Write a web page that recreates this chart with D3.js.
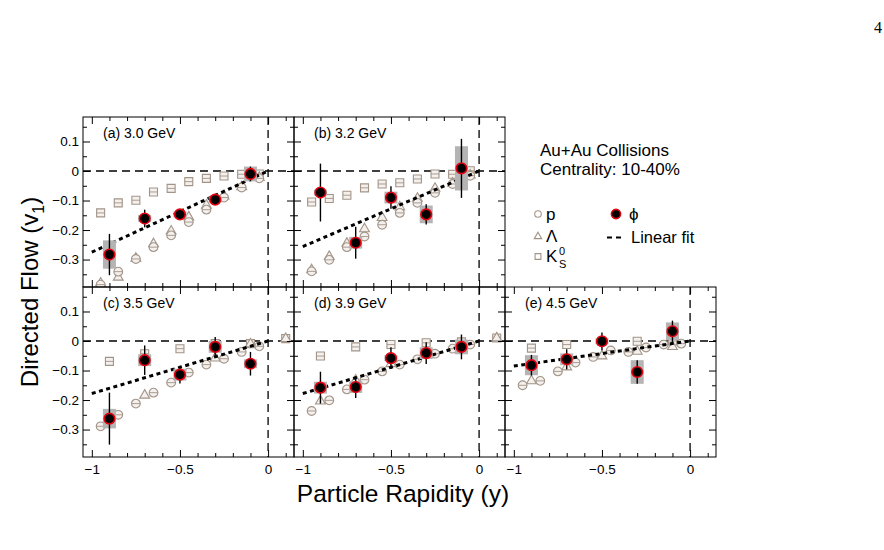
<!DOCTYPE html>
<html>
<head>
<meta charset="utf-8">
<script src="https://cdn.jsdelivr.net/npm/d3@7"></script>
<style>
body { margin: 0; background: #fff; }
svg { font-family: "Liberation Sans", Arial, Helvetica, sans-serif; }
</style>
</head>
<body>
<svg id="chart" width="884" height="550"></svg>
<script>
'use strict';

// panels: (a) (b) on top, (c) (d) (e) below
const panelLabels = ['(a) 3.0 GeV', '(b) 3.2 GeV', '(c) 3.5 GeV', '(d) 3.9 GeV', '(e) 4.5 GeV'];
const panelCol = [0, 1, 0, 1, 2];
const panelRow = [0, 0, 1, 1, 1];

const yMajor = [-0.3, -0.2, -0.1, 0, 0.1];
const yMinor = [-0.35, -0.25, -0.15, -0.05, 0.05, 0.15];
const xMajor = [-1, -0.5, 0];
const xMinor = [-0.9, -0.8, -0.7, -0.6, -0.4, -0.3, -0.2, -0.1, 0.1];

// phi
const phiY = [-0.9, -0.7, -0.5, -0.3, -0.1];
const phiV1 = [
	[-0.283, -0.161, -0.147, -0.097, -0.010],
	[-0.073, -0.243, -0.090, -0.147, 0.009],
	[-0.263, -0.065, -0.114, -0.020, -0.077],
	[-0.158, -0.156, -0.058, -0.041, -0.020],
	[-0.082, -0.062, -0.001, -0.105, 0.033]
];
const phiStat = [
	[0.070, 0.030, 0.012, 0.012, 0.025],
	[0.098, 0.054, 0.038, 0.034, 0.100],
	[0.088, 0.050, 0.030, 0.034, 0.040],
	[0.054, 0.037, 0.037, 0.037, 0.042],
	[0.035, 0.034, 0.030, 0.040, 0.036]
];
const phiSys = [
	[0.048, 0.012, 0.010, 0.010, 0.025],
	[0.010, 0.020, 0.020, 0.030, 0.075],
	[0.033, 0.020, 0.020, 0.020, 0.015],
	[0.020, 0.020, 0.010, 0.020, 0.025],
	[0.034, 0.020, 0.010, 0.040, 0.030]
];
// linear fit through the origin, value at y = -1
const fitAtMinus1 = [-0.275, -0.256, -0.178, -0.178, -0.085];

// protons
const protonY = [-0.95, -0.85, -0.75, -0.65, -0.55, -0.45, -0.35, -0.25, -0.15, -0.05];
const protonV1 = [
	[-0.385, -0.341, -0.298, -0.258, -0.218, -0.173, -0.131, -0.090, -0.056, -0.025],
	[-0.340, -0.301, -0.258, -0.222, -0.182, -0.142, -0.108, -0.074, -0.044, -0.016],
	[-0.289, -0.250, -0.212, -0.175, -0.141, -0.107, -0.080, -0.060, -0.037, -0.018],
	[-0.237, -0.201, -0.164, -0.131, -0.103, -0.080, -0.062, -0.043, -0.026, -0.012],
	[-0.150, -0.135, -0.103, -0.073, -0.054, -0.032, -0.037, -0.022, -0.012, -0.009]
];

// lambda
const lambdaY = [
	[-0.95, -0.85, -0.75, -0.65, -0.55, -0.45, -0.35, -0.25, -0.15, -0.05],
	[-0.95, -0.85, -0.75, -0.65, -0.55, -0.45, -0.35, -0.25, -0.15, -0.05],
	[-0.9, -0.7, -0.5, -0.3, -0.1, 0.1],
	[-0.9, -0.7, -0.5, -0.3, -0.1, 0.1],
	[-0.9, -0.7, -0.5, -0.3, -0.1]
];
const lambdaV1 = [
	[-0.380, -0.360, -0.296, -0.247, -0.204, -0.156, -0.116, -0.085, -0.054, -0.022],
	[-0.335, -0.290, -0.245, -0.196, -0.158, -0.122, -0.093, -0.059, -0.042, -0.014],
	[-0.263, -0.184, -0.110, -0.058, -0.010, 0.008],
	[-0.204, -0.133, -0.077, -0.040, -0.015, 0.010],
	[-0.135, -0.088, -0.051, -0.035, -0.019]
];

// K0s
const kaonY = [
	[-0.95, -0.85, -0.75, -0.65, -0.55, -0.45, -0.35, -0.25, -0.15, -0.05],
	[-0.95, -0.85, -0.75, -0.65, -0.55, -0.45, -0.35, -0.25, -0.15, -0.05],
	[-0.9, -0.7, -0.5, -0.3, -0.1, 0.1],
	[-0.9, -0.7, -0.5, -0.3, -0.1, 0.1],
	[-0.9, -0.7, -0.5, -0.3, -0.1]
];
const kaonV1 = [
	[-0.142, -0.108, -0.099, -0.071, -0.059, -0.036, -0.025, -0.017, -0.011, -0.010],
	[-0.105, -0.093, -0.082, -0.057, -0.044, -0.040, -0.027, -0.010, -0.011, 0.001],
	[-0.069, -0.043, -0.026, -0.009, -0.009, 0.008],
	[-0.051, -0.020, -0.012, -0.006, -0.003, 0.010],
	[-0.024, -0.012, -0.001, -0.001, 0.000]
];

const left0 = 83, top0 = 117, panelW = 211, panelH = 170;
const mColor = '#a39488';
const mFill = '#f3f0ed';

const svg = d3.select('#chart');
const defs = svg.append('defs');

const x = d3.scaleLinear().domain([-1.05, 0.147]).range([0, panelW]);
const y = d3.scaleLinear().domain([-0.393, 0.183]).range([panelH, 0]);

function fmt(v) {
	return v === 0 ? '0' : String(v).replace('-', '\u2212');
}

const sym = {
	circle: d3.symbol(d3.symbolCircle, 60),
	triangle: d3.symbol(d3.symbolTriangle, 42),
	square: d3.symbol(d3.symbolSquare, 64)
};
const half = {circle: 4.4, triangle: 0, square: 4};

function drawSpecies(plot, xs, vs, shape) {
	for (let i=0 ; i<xs.length ; ++i) {
		let cx = x(xs[i]), cy = y(vs[i]);
		plot.append('path')
			.attr('d', sym[shape]())
			.attr('transform', 'translate('+cx+','+cy+')')
			.attr('fill', mFill)
			.attr('stroke', mColor)
			.attr('stroke-width', 1.1);
		if (half[shape]) {
			plot.append('line')
				.attr('x1', cx - half[shape]).attr('x2', cx + half[shape])
				.attr('y1', cy).attr('y2', cy)
				.attr('stroke', mColor).attr('stroke-width', 0.9);
		}
	}
}

function axis(g, fn, vals, size, pad, labels, tr) {
	let a = g.append('g')
		.attr('transform', tr)
		.call(fn.tickValues(vals).tickSize(-size).tickPadding(pad).tickFormat(labels ? fmt : ''));
	a.select('.domain').remove();
	a.attr('font-family', null).attr('font-size', 13.5);
	a.selectAll('line').attr('stroke', '#000').attr('stroke-width', 1);
	if (labels) {
		a.selectAll('text').attr('fill', '#000');
	}
	else {
		a.selectAll('text').remove();
	}
	return a;
}

for (let p=0 ; p<5 ; ++p) {
	let g = svg.append('g')
		.attr('transform', 'translate('+(left0 + panelCol[p]*panelW)+','+(top0 + panelRow[p]*panelH)+')');

	defs.append('clipPath').attr('id', 'clip'+p)
		.append('rect').attr('width', panelW).attr('height', panelH);
	let plot = g.append('g').attr('clip-path', 'url(#clip'+p+')');

	// zero lines
	plot.append('line')
		.attr('x1', 0).attr('x2', panelW).attr('y1', y(0)).attr('y2', y(0))
		.attr('stroke', '#000').attr('stroke-width', 1.3).attr('stroke-dasharray', '8,5');
	plot.append('line')
		.attr('x1', x(0)).attr('x2', x(0)).attr('y1', 0).attr('y2', panelH)
		.attr('stroke', '#000').attr('stroke-width', 1.3).attr('stroke-dasharray', '8,5');

	drawSpecies(plot, kaonY[p], kaonV1[p], 'square');
	drawSpecies(plot, lambdaY[p], lambdaV1[p], 'triangle');
	drawSpecies(plot, protonY, protonV1[p], 'circle');

	// linear fit
	plot.append('path')
		.datum([[-1, fitAtMinus1[p]], [0, 0]])
		.attr('d', d3.line().x(d => x(d[0])).y(d => y(d[1])))
		.attr('fill', 'none')
		.attr('stroke', '#000').attr('stroke-width', 3).attr('stroke-dasharray', '4,3.5');

	// phi: sys boxes, stat bars, markers
	for (let i=0 ; i<phiY.length ; ++i) {
		let v = phiV1[p][i];
		plot.append('rect')
			.attr('x', x(phiY[i]) - 6.5).attr('width', 13)
			.attr('y', y(v + phiSys[p][i])).attr('height', y(v - phiSys[p][i]) - y(v + phiSys[p][i]))
			.attr('fill', '#b4b4b4');
	}
	for (let i=0 ; i<phiY.length ; ++i) {
		let v = phiV1[p][i];
		plot.append('line')
			.attr('x1', x(phiY[i])).attr('x2', x(phiY[i]))
			.attr('y1', y(v + phiStat[p][i])).attr('y2', y(v - phiStat[p][i]))
			.attr('stroke', '#000').attr('stroke-width', 1.4);
	}
	for (let i=0 ; i<phiY.length ; ++i) {
		plot.append('circle')
			.attr('cx', x(phiY[i])).attr('cy', y(phiV1[p][i])).attr('r', 5.3)
			.attr('fill', '#000').attr('stroke', '#e4000f').attr('stroke-width', 1.6);
	}

	// axes, ticks on all four sides
	let ylab = panelCol[p] === 0;
	let xlab = panelRow[p] === 1;
	axis(g, d3.axisLeft(y), yMajor, 7, 4, ylab, null);
	axis(g, d3.axisLeft(y), yMinor, 4, 4, false, null);
	axis(g, d3.axisRight(y), yMajor, 7, 4, false, 'translate('+panelW+',0)');
	axis(g, d3.axisRight(y), yMinor, 4, 4, false, 'translate('+panelW+',0)');
	axis(g, d3.axisBottom(x), xMajor, 7, 7, xlab, 'translate(0,'+panelH+')');
	axis(g, d3.axisBottom(x), xMinor, 4, 7, false, 'translate(0,'+panelH+')');
	axis(g, d3.axisTop(x), xMajor, 7, 4, false, null);
	axis(g, d3.axisTop(x), xMinor, 4, 4, false, null);

	g.append('rect')
		.attr('width', panelW).attr('height', panelH)
		.attr('fill', 'none').attr('stroke', '#000').attr('stroke-width', 1);

	g.append('text')
		.attr('x', 20).attr('y', 21)
		.attr('font-size', 14)
		.text(panelLabels[p]);
}

// legend
svg.append('text').attr('x', 540).attr('y', 156).attr('font-size', 17).text('Au+Au Collisions');
svg.append('text').attr('x', 540).attr('y', 175).attr('font-size', 17).text('Centrality: 10-40%');

let legSym = [['circle', 214, 'p'], ['triangle', 236.5, '\u039B'], ['square', 256.5, 'K']];
legSym.forEach(function(s) {
	svg.append('path')
		.attr('d', d3.symbol(s[0] === 'circle' ? d3.symbolCircle : s[0] === 'triangle' ? d3.symbolTriangle : d3.symbolSquare, s[0] === 'triangle' ? 24 : 34)())
		.attr('transform', 'translate(538,'+s[1]+')')
		.attr('fill', 'none').attr('stroke', mColor).attr('stroke-width', 1.1);
	svg.append('text').attr('x', 546).attr('y', s[1] + 5.5).attr('font-size', 17).text(s[2]);
});
svg.append('text').attr('x', 559).attr('y', 255).attr('font-size', 11).text('0');
svg.append('text').attr('x', 559).attr('y', 268).attr('font-size', 11).text('S');

svg.append('circle').attr('cx', 616).attr('cy', 214).attr('r', 4.6)
	.attr('fill', '#000').attr('stroke', '#e4000f').attr('stroke-width', 1.6);
svg.append('text').attr('x', 629).attr('y', 220).attr('font-size', 17).text('\u03D5');
svg.append('line').attr('x1', 607).attr('x2', 625).attr('y1', 237.5).attr('y2', 237.5)
	.attr('stroke', '#000').attr('stroke-width', 2).attr('stroke-dasharray', '5,4');
svg.append('text').attr('x', 631).attr('y', 243).attr('font-size', 16.5).text('Linear fit');

// titles
svg.append('text')
	.attr('x', 403).attr('y', 502)
	.attr('text-anchor', 'middle').attr('font-size', 24.5)
	.text('Particle Rapidity (y)');

let yt = svg.append('text')
	.attr('transform', 'translate(38,292) rotate(-90)')
	.attr('text-anchor', 'middle').attr('font-size', 24);
yt.append('tspan').text('Directed Flow (v');
yt.append('tspan').attr('font-size', 16).attr('dy', 6).text('1');
yt.append('tspan').attr('dy', -6).text(')');

// page number
svg.append('text')
	.attr('x', 882).attr('y', 33)
	.attr('text-anchor', 'end')
	.attr('font-family', '"Liberation Serif", "DejaVu Serif", serif')
	.attr('font-size', 16)
	.text('4');
</script>
</body>
</html>
